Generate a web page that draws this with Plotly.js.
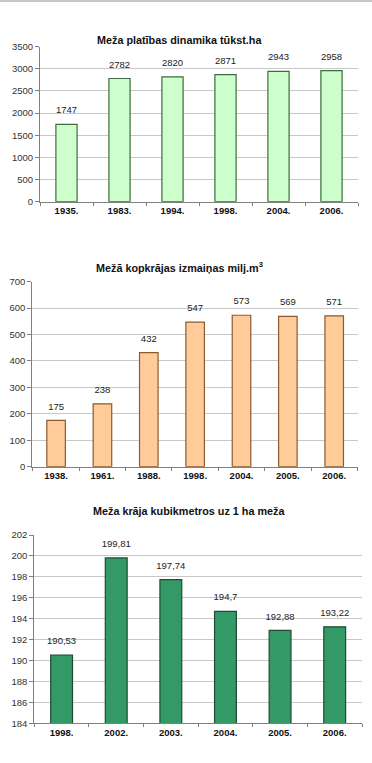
<!DOCTYPE html>
<html>
<head>
<meta charset="utf-8">
<script src="https://cdn.plot.ly/plotly-3.0.1.min.js"></script>
<style>html,body{margin:0;padding:0;background:#fff;}#chart{width:372px;height:763px;}</style>
</head>
<body>
<div id="chart"></div>
<script>
// Chart 1: forest area, thousand ha
var years1 = ["1935.", "1983.", "1994.", "1998.", "2004.", "2006."];
var area = [1747, 2782, 2820, 2871, 2943, 2958];
// Chart 2: total growing stock, million m3
var years2 = ["1938.", "1961.", "1988.", "1998.", "2004.", "2005.", "2006."];
var stock = [175, 238, 432, 547, 573, 569, 571];
// Chart 3: growing stock m3 per 1 ha
var years3 = ["1998.", "2002.", "2003.", "2004.", "2005.", "2006."];
var perHa = [190.53, 199.81, 197.74, 194.7, 192.88, 193.22];

var titles = ["Meža platības dinamika tūkst.ha", "Mežā kopkrājas izmaiņas milj.m<sup>3</sup>", "Meža krāja kubikmetros uz 1 ha meža"];

var W = 372, H = 763;
function fx(px){ return px / W; }
function fy(px){ return 1 - px / H; }

var font = "Liberation Sans, Arial, sans-serif";

function bar(x, y, xa, ya, fill, line){
  return {
    type: "bar", x: x, y: y, xaxis: xa, yaxis: ya,
    marker: {color: fill, line: {color: line, width: 1.2}},
    hoverinfo: "none", width: 0.4
  };
}
function labels(x, y, xa, ya, text){
  return {
    type: "scatter", mode: "markers+text", x: x, y: y, xaxis: xa, yaxis: ya,
    marker: {size: 12, opacity: 0},
    text: text, textposition: "top center", cliponaxis: false,
    textfont: {family: font, size: 9.5, color: "#222"},
    hoverinfo: "none"
  };
}

var text3 = perHa.map(function(v){ return String(v).replace(".", ","); });

var data = [
  bar(years1, area, "x", "y", "#ccffcc", "#3d6b3d"),
  labels(years1, area, "x", "y", area.map(String)),
  bar(years2, stock, "x2", "y2", "#ffcc99", "#8a5a2e"),
  labels(years2, stock, "x2", "y2", stock.map(String)),
  bar(years3, perHa, "x3", "y3", "#339966", "#1e4d30"),
  labels(years3, perHa, "x3", "y3", text3)
];

function xax(dom, anchor){
  return {
    domain: dom, anchor: anchor, type: "category",
    showline: true, linecolor: "#808080", linewidth: 1,
    ticks: "outside", tickson: "boundaries", ticklen: 3, tickcolor: "#808080",
    tickfont: {family: font, size: 9.5, color: "#111", weight: "bold"},
    showgrid: false, fixedrange: true
  };
}
function yax(dom, anchor, range, dtick){
  return {
    domain: dom, anchor: anchor, range: range, dtick: dtick,
    showline: true, linecolor: "#808080", linewidth: 1,
    ticks: "outside", ticklen: 4, tickcolor: "#808080",
    tickfont: {family: font, size: 9.5, color: "#333"},
    showgrid: true, gridcolor: "#c8c8c8", gridwidth: 1,
    zeroline: false, fixedrange: true
  };
}

var tfont = {family: font, size: 10.8, color: "#111", weight: "bold"};

var layout = {
  width: W, height: H,
  margin: {l: 0, r: 0, t: 0, b: 0},
  paper_bgcolor: "#fff", plot_bgcolor: "#fff",
  showlegend: false,
  font: {family: font},
  xaxis: xax([fx(40), fx(358)], "y"),
  yaxis: yax([fy(201.7), fy(46.7)], "x", [0, 3500], 500),
  xaxis2: xax([fx(32.3), fx(358)], "y2"),
  yaxis2: yax([fy(466.7), fy(281.7)], "x2", [0, 700], 100),
  xaxis3: xax([fx(34.3), fx(362)], "y3"),
  yaxis3: yax([fy(723.3), fy(535)], "x3", [184, 202], 2),
  annotations: [
    {text: titles[0], x: fx(179), y: fy(32), xref: "paper", yref: "paper", showarrow: false, font: tfont},
    {text: titles[1], x: fx(179), y: fy(267), xref: "paper", yref: "paper", showarrow: false, font: tfont},
    {text: titles[2], x: fx(189), y: fy(519), xref: "paper", yref: "paper", showarrow: false, font: tfont}
  ],
  shapes: [
    {type: "line", xref: "paper", yref: "paper", x0: 0, x1: 1, y0: fy(1), y1: fy(1), line: {color: "#c8c8c8", width: 2}}
  ]
};

Plotly.newPlot("chart", data, layout, {displayModeBar: false, staticPlot: true});
</script>
</body>
</html>
